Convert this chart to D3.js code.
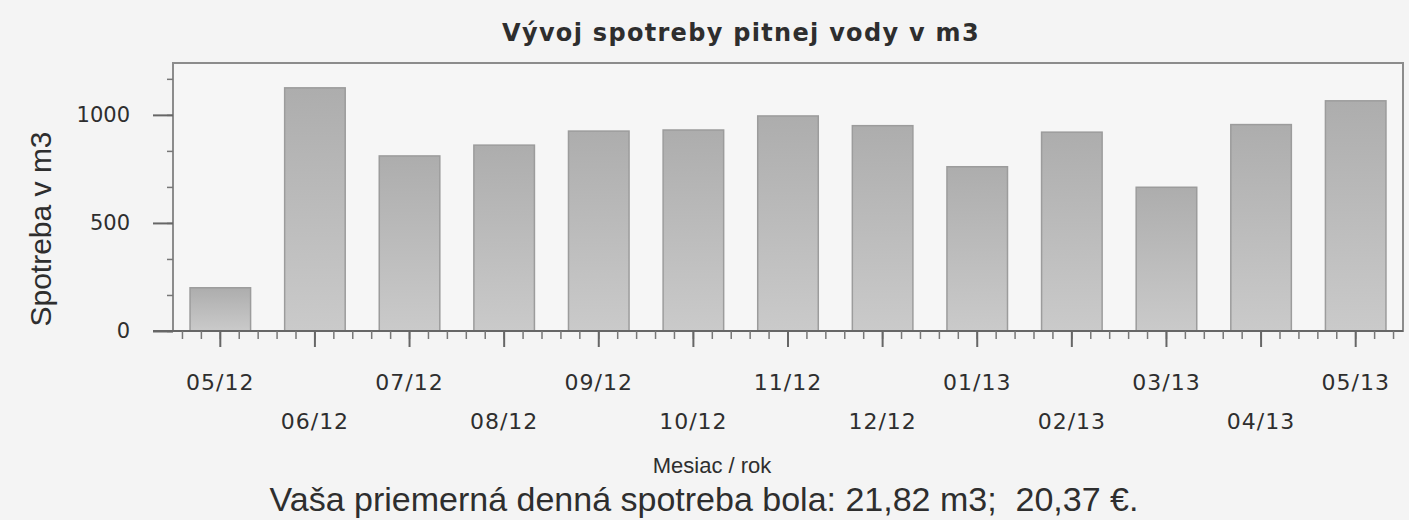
<!DOCTYPE html>
<html>
<head>
<meta charset="utf-8">
<script src="https://d3js.org/d3.v7.min.js"></script>
<style>
  body { margin: 0; background: #f4f4f4; }
  svg { display: block; }
</style>
</head>
<body>
<svg id="chart"></svg>
<script>
// chart data
var months = ["05/12", "06/12", "07/12", "08/12", "09/12", "10/12", "11/12",
  "12/12", "01/13", "02/13", "03/13", "04/13", "05/13"];
var usage = [200, 1125, 810, 860, 925, 930, 995, 950, 760, 920, 665, 955, 1065];
var yTicks = [0, 500, 1000];

var titleText = "Vývoj spotreby pitnej vody v m3";
var yLabel = "Spotreba v m3";
var xLabel = "Mesiac / rok";
var footer = "Vaša priemerná denná spotreba bola: 21,82 m3;  20,37 €.";

var width = 1409;
var height = 520;
var box = { left: 173, right: 1403, top: 63, bottom: 331 };
var ink = "#2e2e2e";

var svg = d3.select("#chart")
  .attr("width", width)
  .attr("height", height);

svg.append("rect")
  .attr("width", width)
  .attr("height", height)
  .attr("fill", "#f4f4f4");

var grad = svg.append("defs").append("linearGradient")
  .attr("id", "barfill")
  .attr("x1", 0).attr("y1", 0).attr("x2", 0).attr("y2", 1);
grad.append("stop").attr("offset", "0%").attr("stop-color", "#adadad");
grad.append("stop").attr("offset", "100%").attr("stop-color", "#cacaca");

// scales
var x = d3.scaleBand()
  .domain(months)
  .range([box.left, box.right])
  .paddingInner(0.36)
  .paddingOuter(0.18);

var y = d3.scaleLinear()
  .domain([0, 1240])
  .range([box.bottom, box.top]);

// plot frame
svg.append("rect")
  .attr("x", box.left)
  .attr("y", box.top)
  .attr("width", box.right - box.left)
  .attr("height", box.bottom - box.top)
  .attr("fill", "#f6f6f6")
  .attr("stroke", "#8c8c8c")
  .attr("stroke-width", 2);

// bars
svg.selectAll(".bar")
  .data(usage)
  .enter()
  .append("rect")
  .attr("class", "bar")
  .attr("x", function (d, i) { return x(months[i]); })
  .attr("y", function (d) { return y(d); })
  .attr("width", x.bandwidth())
  .attr("height", function (d) { return y(0) - y(d); })
  .attr("fill", "url(#barfill)")
  .attr("stroke", "#9c9c9c")
  .attr("stroke-width", 1.5);

// Y axis: major ticks with labels, minor ticks every third of 500
var yMinor = d3.range(0, 1240, 500 / 3);
svg.append("g")
  .attr("transform", "translate(" + box.left + ",0)")
  .call(d3.axisLeft(y).tickValues(yMinor).tickSize(6).tickFormat(""))
  .call(function (g) { g.select(".domain").remove(); })
  .selectAll("line").attr("stroke", "#777").attr("stroke-width", 1.5);

var yAxis = svg.append("g")
  .attr("transform", "translate(" + box.left + ",0)")
  .call(d3.axisLeft(y).tickValues(yTicks).tickSize(20).tickPadding(23)
    .tickFormat(d3.format("d")));
yAxis.select(".domain").remove();
yAxis.selectAll("line").attr("stroke", "#666").attr("stroke-width", 2);
yAxis.selectAll("text")
  .attr("fill", ink)
  .style("font-family", "DejaVu Sans")
  .style("font-size", "21px");

// X axis line from the 0 tick to the right edge
svg.append("line")
  .attr("x1", box.left - 20)
  .attr("x2", box.right)
  .attr("y1", y(0))
  .attr("y2", y(0))
  .attr("stroke", "#666")
  .attr("stroke-width", 2);

// X minor ticks
var step = x.step();
var xMinor = d3.range(box.left + step / 10, box.right, step / 5);
svg.selectAll(".xminor")
  .data(xMinor)
  .enter()
  .append("line")
  .attr("x1", function (d) { return d; })
  .attr("x2", function (d) { return d; })
  .attr("y1", y(0))
  .attr("y2", y(0) + 8)
  .attr("stroke", "#777")
  .attr("stroke-width", 1.5);

// X major ticks and staggered labels
var xAxis = svg.append("g")
  .attr("transform", "translate(0," + y(0) + ")")
  .call(d3.axisBottom(x).tickSize(16).tickPadding(4));
xAxis.select(".domain").remove();
xAxis.selectAll("line").attr("stroke", "#666").attr("stroke-width", 2);
xAxis.selectAll("text")
  .attr("fill", ink)
  .attr("dy", null)
  .attr("y", function (d, i) { return i % 2 === 0 ? 59 : 98; })
  .style("font-family", "DejaVu Sans")
  .style("font-size", "22px")
  .style("letter-spacing", "1px");

// title and axis labels
svg.append("text")
  .attr("x", 741)
  .attr("y", 41)
  .attr("text-anchor", "middle")
  .attr("fill", ink)
  .style("font-family", "DejaVu Sans")
  .style("font-weight", "bold")
  .style("font-size", "24px")
  .style("letter-spacing", "1.3px")
  .text(titleText);

svg.append("text")
  .attr("transform", "translate(51,229)rotate(-90)")
  .attr("text-anchor", "middle")
  .attr("fill", ink)
  .style("font-family", "Liberation Sans")
  .style("font-size", "30px")
  .text(yLabel);

svg.append("text")
  .attr("x", 712)
  .attr("y", 473)
  .attr("text-anchor", "middle")
  .attr("fill", ink)
  .style("font-family", "Liberation Sans")
  .style("font-size", "22px")
  .text(xLabel);

svg.append("text")
  .attr("x", 704)
  .attr("y", 511)
  .attr("text-anchor", "middle")
  .attr("fill", ink)
  .attr("xml:space", "preserve")
  .style("white-space", "pre")
  .style("font-family", "Liberation Sans")
  .style("font-size", "34px")
  .text(footer);
</script>
</body>
</html>
